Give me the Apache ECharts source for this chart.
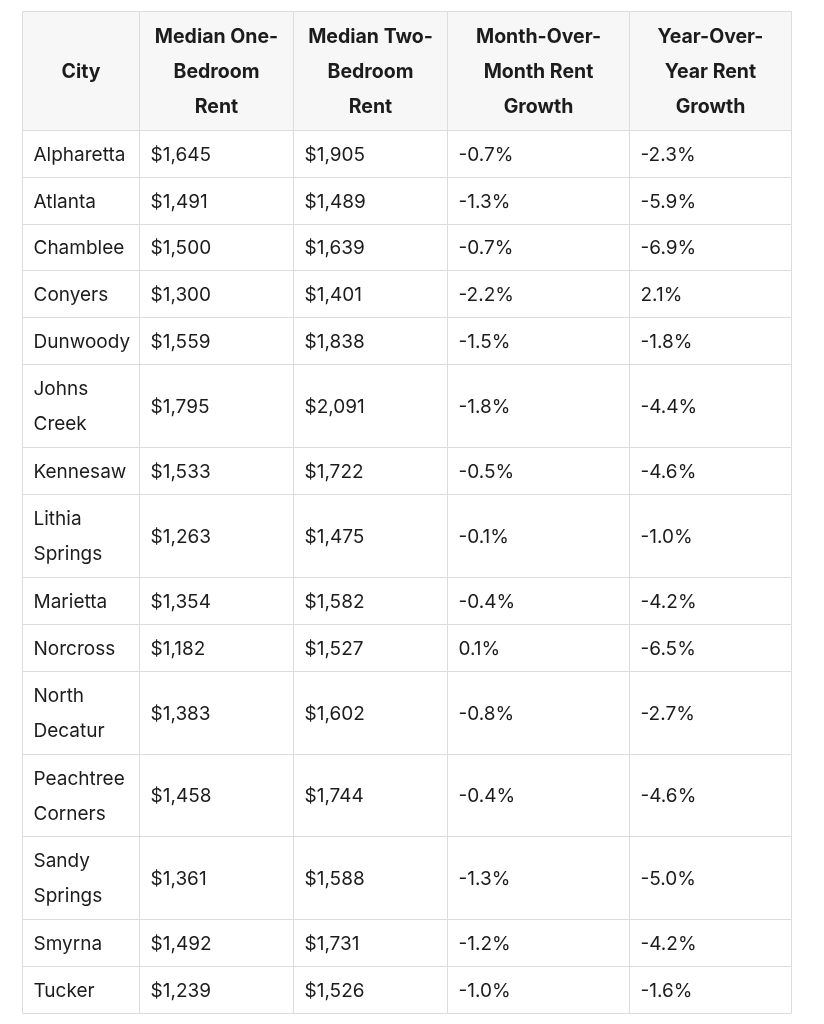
<!DOCTYPE html>
<html>
<head>
<meta charset="utf-8">
<script src="https://cdn.jsdelivr.net/npm/echarts@6/dist/echarts.min.js"></script>
<style>
  html, body { margin: 0; padding: 0; background: #ffffff; }
  #chart { width: 824px; height: 1024px; }
</style>
</head>
<body>
<div id="chart"></div>
<script>
// ---- Data ----
const columns = [
  'City',
  'Median One-\nBedroom\nRent',
  'Median Two-\nBedroom\nRent',
  'Month-Over-\nMonth Rent\nGrowth',
  'Year-Over-\nYear Rent\nGrowth'
];
const cities = [
  'Alpharetta', 'Atlanta', 'Chamblee', 'Conyers', 'Dunwoody', 'Johns Creek',
  'Kennesaw', 'Lithia Springs', 'Marietta', 'Norcross', 'North Decatur',
  'Peachtree Corners', 'Sandy Springs', 'Smyrna', 'Tucker'
];
const oneBedroomRent = [1645, 1491, 1500, 1300, 1559, 1795, 1533, 1263, 1354, 1182, 1383, 1458, 1361, 1492, 1239];
const twoBedroomRent = [1905, 1489, 1639, 1401, 1838, 2091, 1722, 1475, 1582, 1527, 1602, 1744, 1588, 1731, 1526];
const momGrowth = [-0.7, -1.3, -0.7, -2.2, -1.5, -1.8, -0.5, -0.1, -0.4, 0.1, -0.8, -0.4, -1.3, -1.2, -1.0];
const yoyGrowth = [-2.3, -5.9, -6.9, 2.1, -1.8, -4.4, -4.6, -1.0, -4.2, -6.5, -2.7, -4.6, -5.0, -4.2, -1.6];

// ---- Layout (not data) ----
const colWidths = [117, 154, 154, 182, 162];
const linePad = 11, lineUnit = 36;
const FONT = 'Inter, "Noto Sans", "Liberation Sans", sans-serif';

const money = v => '$' + v.toLocaleString('en-US');
const pct = v => v.toFixed(1) + '%';

// build rows of text
const rows = [columns.slice()];
cities.forEach((c, i) => {
  rows.push([
    c.replace(' ', '\n'),
    money(oneBedroomRent[i]),
    money(twoBedroomRent[i]),
    pct(momGrowth[i]),
    pct(yoyGrowth[i])
  ]);
});

// compute cumulative boundaries in axis units
const colStarts = [0];
colWidths.forEach(w => colStarts.push(colStarts[colStarts.length - 1] + w));
const rowStarts = [0];
rows.forEach(r => {
  const lines = Math.max.apply(null, r.map(t => t.split('\n').length));
  rowStarts.push(rowStarts[rowStarts.length - 1] + linePad + lineUnit * lines);
});
const totalW = colStarts[colStarts.length - 1];
const totalH = rowStarts[rowStarts.length - 1];

const cells = [];
rows.forEach((r, ri) => {
  r.forEach((t, ci) => {
    cells.push([colStarts[ci], rowStarts[ri], colStarts[ci + 1], rowStarts[ri + 1], ri === 0 ? 1 : 0, t]);
  });
});

const chart = echarts.init(document.getElementById('chart'), null, { renderer: 'canvas' });
chart.setOption({
  backgroundColor: '#ffffff',
  animation: false,
  grid: { left: 22, top: 11, width: 769, height: 1002 },
  xAxis: { type: 'value', min: 0, max: totalW, show: false },
  yAxis: { type: 'value', min: 0, max: totalH, inverse: true, show: false },
  series: [{
    type: 'custom',
    coordinateSystem: 'cartesian2d',
    encode: { x: [0, 2], y: [1, 3] },
    data: cells,
    renderItem: function (params, api) {
      const p0 = api.coord([api.value(0), api.value(1)]);
      const p1 = api.coord([api.value(2), api.value(3)]);
      const header = api.value(4) === 1;
      const text = cells[params.dataIndex][5];
      const x0 = Math.round(p0[0]) + 0.5, y0 = Math.round(p0[1]) + 0.5;
      const x1 = Math.round(p1[0]) + 0.5, y1 = Math.round(p1[1]) + 0.5;
      return {
        type: 'group',
        children: [{
          type: 'rect',
          shape: { x: x0, y: y0, width: x1 - x0, height: y1 - y0 },
          style: { fill: header ? '#f7f7f7' : '#ffffff', stroke: '#dcdcdc', lineWidth: 1 }
        }, {
          type: 'text',
          style: {
            text: text,
            x: header ? (x0 + x1) / 2 : x0 + 11,
            y: (y0 + y1) / 2 + 1,
            align: header ? 'center' : 'left',
            verticalAlign: 'middle',
            lineHeight: 35,
            fill: '#1c1c1c',
            fontFamily: FONT,
            fontSize: header ? 19.5 : 19,
            fontWeight: header ? 'bold' : 'normal'
          }
        }]
      };
    }
  }]
});
</script>
</body>
</html>
